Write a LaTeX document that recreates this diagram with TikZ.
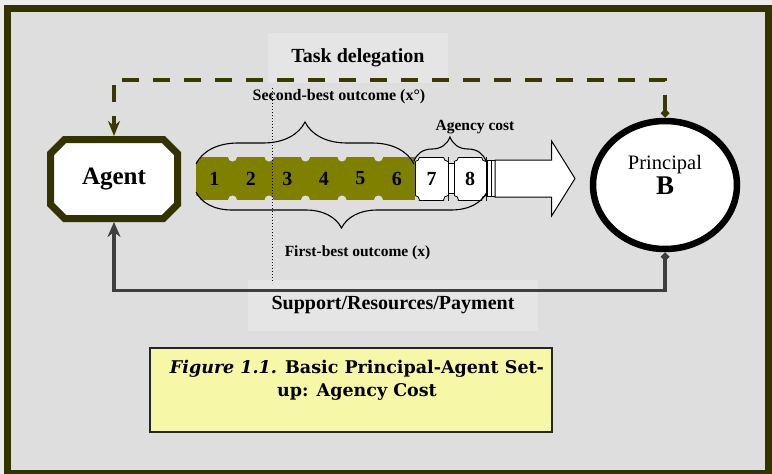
\documentclass[tikz,border=0pt]{standalone}
\usepackage{fontspec}
\setmainfont{Liberation Serif}
\newfontfamily\captionfont{DejaVu Serif}
\usepackage{tikz}
\usetikzlibrary{shapes.geometric, shapes.misc, shapes.arrows, arrows.meta, positioning, calc, decorations.pathreplacing}
\definecolor{frameolive}{RGB}{51,51,0}
\definecolor{taskolive}{RGB}{58,58,0}
\definecolor{outcomeolive}{RGB}{128,128,0}
\definecolor{panelgray}{RGB}{222,222,222}
\definecolor{pagegray}{RGB}{236,236,236}
\definecolor{labelgray}{RGB}{229,229,229}
\definecolor{supportgray}{RGB}{62,62,62}
\definecolor{captionyellow}{RGB}{247,247,168}

\begin{document}
\begin{tikzpicture}[x=1pt, y=-1pt,
    agentbox/.style={chamfered rectangle, chamfered rectangle xsep=24pt, draw=frameolive, line width=7pt, fill=white, minimum width=127pt, minimum height=79pt, inner sep=0pt, font=\bfseries\fontsize{25}{25}\selectfont},
    principalbox/.style={ellipse, draw=black, line width=6.5pt, fill=white, minimum width=144pt, minimum height=128pt, inner sep=0pt},
    cell/.style={rectangle, fill=outcomeolive, minimum width=36.5pt, minimum height=43pt, inner sep=0pt, outer sep=0pt, font=\bfseries\fontsize{20}{20}\selectfont},
    costcell/.style={cell, fill=white, draw=black, line width=0.8pt},
    notch/.style={fill=panelgray},
    slot/.style={rectangle, draw=black, fill=white, line width=0.8pt, minimum width=6pt, minimum height=30pt, inner sep=0pt, outer sep=0pt},
    bar/.style={slot, minimum width=4pt, minimum height=36pt},
    outarrow/.style={single arrow, draw=black, fill=white, line width=1pt, minimum height=80pt, single arrow head extend=19pt, single arrow tip angle=116, inner xsep=0pt, inner ysep=18pt, outer sep=0pt},
    outcomebrace/.style={decorate, decoration={brace, amplitude=#1}, line width=1.1pt},
    tasklabel/.style={fill=labelgray, minimum width=180pt, minimum height=50pt, inner sep=0pt, font=\bfseries\fontsize{20}{20}\selectfont},
    supportlabel/.style={tasklabel, minimum width=290pt, minimum height=51pt},
    outcomelabel/.style={inner sep=0pt, font=\bfseries\fontsize{15.5}{15.5}\selectfont},
    taskline/.style={draw=taskolive, line width=4.5pt, dash pattern=on 17pt off 14pt, {Diamond[length=9pt,width=9pt]}-{Stealth[length=15pt,width=12pt]}},
    supportline/.style={draw=supportgray, line width=3.5pt, {Diamond[length=9pt,width=9pt]}-{Stealth[length=15pt,width=13pt]}}
  ]
    \useasboundingbox (0,0) rectangle (772,474);
    \fill[pagegray] (0,0) rectangle (772,474);
    \draw[frameolive, line width=7pt, fill=panelgray] (7.5,8.5) rectangle (768.5,473.5);

    % Label panels
    \node[tasklabel] (task) at (358,58) {Task delegation};
    \node[supportlabel] (support) at (393,305) {Support/Resources/Payment};

    % Outcome strip
    \foreach \i in {1,...,6} {
        \node[cell] (c\i) at ({214.25+36.5*(\i-1)}, 178.5) {\i};
    }
    \foreach \i in {1,...,6} {
        \fill[notch] (c\i.north west) circle[radius=4.5pt];
        \fill[notch] (c\i.south west) circle[radius=4.5pt];
    }
    \node[costcell, right=0pt of c6, minimum width=33pt] (c7) {7};
    \node[slot, right=0pt of c7] (slot78) {};
    \node[costcell, right=0pt of slot78, minimum width=32pt] (c8) {8};
    \foreach \cb in {c7,c8} {
        \begin{scope}
            \clip (\cb.north west) rectangle (\cb.south east);
            \foreach \corner in {north west, north east, south west, south east}
                \filldraw[notch, draw=black, line width=0.8pt] (\cb.\corner) circle[radius=4.5pt];
        \end{scope}
    }
    \node[bar, right=1pt of c8] (bar1) {};
    \node[bar, right=0pt of bar1] (bar2) {};
    \node[outarrow, right=0pt of bar2] (outcome) {};

    % Braces
    \draw[outcomebrace=42pt] (196,164) -- (414,164);
    \draw[outcomebrace=36pt] (487,192) -- (196,192);
    \draw[outcomebrace=24pt] (414,161) -- (486,161);

    % Actors
    \node[agentbox] (agent) at (114,179) {Agent};
    \node[principalbox] (principal) at (665,185) {};
    \node[align=center, inner sep=0pt, font=\fontsize{20.5}{25}\selectfont] (principaltxt) at (665,175) {Principal\\{\bfseries\fontsize{27}{25}\selectfont B}};

    % Connectors
    \draw[taskline] (principal.north) -- ++(0,-38) -| (agent.north);
    \draw[supportline] (principal.south) -- ++(0,38) -| (agent.south);

    % Dotted split
    \coordinate (dottop) at (272,88);
    \coordinate (dotbot) at (272,283);
    \draw[dotted, line width=1pt] (dottop) -- (dotbot);

    % Outcome labels
    \node[outcomelabel, font=\bfseries\fontsize{16}{16}\selectfont] (secondbest) at (339,97) {Second-best outcome (x°)};
    \node[outcomelabel] (firstbest) at (357.5,253) {First-best outcome (x)};
    \node[outcomelabel] (agencycost) at (475,127) {Agency cost};

    % Caption
    \node[rectangle, draw=black!85, line width=1.5pt, fill=captionyellow, minimum width=402pt, minimum height=84pt] (captionbox) at (351,390) {};
    \node[align=center, inner sep=0pt, font=\captionfont\bfseries\fontsize{17.5}{23}\selectfont] (captiontxt) at (357,380) {{\itshape Figure 1.1.} Basic Principal-Agent Set-\\up: Agency Cost};
\end{tikzpicture}
\end{document}
